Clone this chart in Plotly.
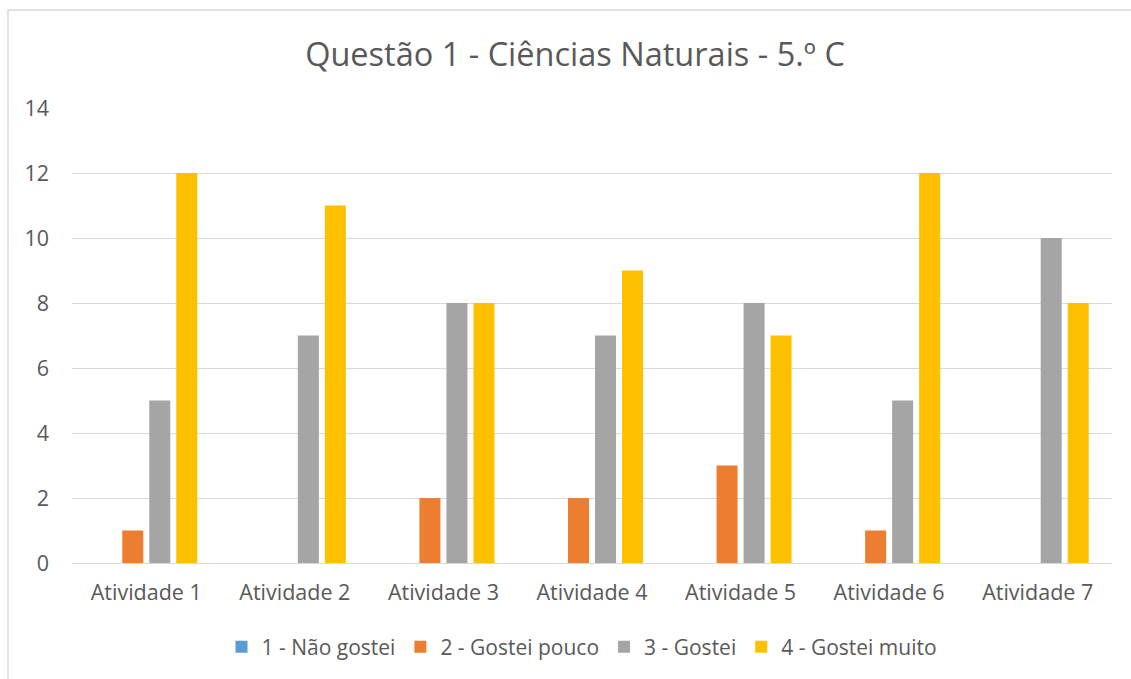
import plotly.graph_objects as go

categories = ["Atividade 1", "Atividade 2", "Atividade 3", "Atividade 4",
              "Atividade 5", "Atividade 6", "Atividade 7"]
series_names = ["1 - Não gostei", "2 - Gostei pouco", "3 - Gostei", "4 - Gostei muito"]
nao_gostei = [0, 0, 0, 0, 0, 0, 0]
gostei_pouco = [1, 0, 2, 2, 3, 1, 0]
gostei = [5, 7, 8, 7, 8, 5, 10]
gostei_muito = [12, 11, 8, 9, 7, 12, 8]
colors = ["#5B9BD5", "#ED7D31", "#A5A5A5", "#FFC000"]
y_ticks = [0, 2, 4, 6, 8, 10, 12, 14]

FONT = "Open Sans"
TEXT = "#595959"
GRID = "#D9D9D9"

fig = go.Figure()
for name, vals, col in zip(series_names,
                           [nao_gostei, gostei_pouco, gostei, gostei_muito],
                           colors):
    fig.add_trace(go.Bar(x=categories, y=vals, name=name, marker_color=col,
                         marker_line_width=0))

W, H = 1131, 679
L, R, T, B = 72, 19, 108, 116
pw, ph = W - L - R, H - T - B

fig.update_layout(
    width=W, height=H,
    margin=dict(l=L, r=R, t=T, b=B),
    paper_bgcolor="white", plot_bgcolor="white",
    barmode="group", bargap=0.273, bargroupgap=0.222,
    font=dict(family=FONT, color=TEXT, size=21),
    title=dict(text="Questão 1 - Ciências Naturais - 5.º C",
               x=575 / W, xanchor="center", y=1 - 55 / H, yanchor="middle",
               font=dict(size=32.5, color=TEXT, family=FONT)),
    legend=dict(orientation="h", x=(582 - L) / pw, xanchor="center",
                y=(563 - 647) / ph, yanchor="middle",
                font=dict(size=21, color=TEXT), itemsizing="constant",
                traceorder="normal"),
    showlegend=True,
    xaxis=dict(showgrid=False, showline=False, ticks="",
               tickfont=dict(size=21.5, color=TEXT), ticklabelstandoff=14),
    yaxis=dict(range=[0, 14], tickvals=y_ticks, showgrid=True, gridcolor=GRID,
               gridwidth=1, zeroline=True, zerolinecolor=GRID, zerolinewidth=1,
               showline=False, ticks="", tickfont=dict(size=21.5, color=TEXT),
               ticklabelstandoff=22),
    shapes=[dict(type="rect", xref="paper", yref="paper",
                 x0=(8 - L) / pw, x1=(W + 20 - L) / pw,
                 y0=-(B + 20) / ph, y1=1 + (T - 10) / ph,
                 line=dict(color=GRID, width=1.5), fillcolor="rgba(0,0,0,0)",
                 layer="below")],
)

fig.write_html("out.html")
